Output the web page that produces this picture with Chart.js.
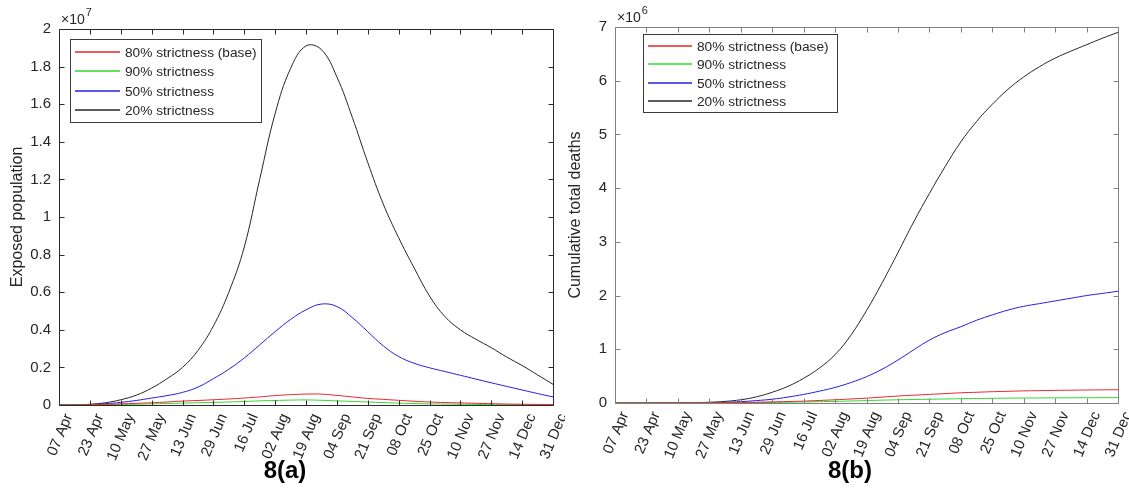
<!DOCTYPE html>
<html>
<head>
<meta charset="utf-8">
<script src="https://cdn.jsdelivr.net/npm/chart.js@4.4.1/dist/chart.umd.min.js"></script>
<style>
	html, body { margin: 0; padding: 0; background: #fff; }
	#wrap { position: relative; width: 1129px; height: 497px; overflow: hidden; }
	.panel { position: absolute; top: 0; }
</style>
</head>
<body>
<div id="wrap">
	<div class="panel" style="left:0"><canvas id="exposed" width="565" height="497"></canvas></div>
	<div class="panel" style="left:565px"><canvas id="deaths" width="564" height="497"></canvas></div>
</div>
<script>
// dates shown under the x axis, one per tick position 0..16
const tickLabels = ['07 Apr', '23 Apr', '10 May', '27 May', '13 Jun', '29 Jun', '16 Jul', '02 Aug', '19 Aug',
	'04 Sep', '21 Sep', '08 Oct', '25 Oct', '10 Nov', '27 Nov', '14 Dec', '31 Dec'];

// sample positions along the x axis (in tick units)
const xPos = [0, 0.5, 1, 1.5, 2, 2.5, 3, 3.5, 4, 4.5, 5, 5.5, 6, 6.5, 7, 7.5, 8, 8.5,
	9, 9.5, 10, 10.5, 11, 11.5, 12, 12.5, 13, 13.5, 14, 14.5, 15, 15.5, 16];

const seriesNames = ['80% strictness (base)', '90% strictness', '50% strictness', '20% strictness'];
const seriesColors = ['#e8262b', '#2fd82f', '#1f1fe6', '#262626'];

// exposed population, x 1e7
const exposed80 = [0, 0, 0.001, 0.003, 0.006, 0.009, 0.012, 0.016, 0.021, 0.024, 0.028, 0.032, 0.037, 0.043, 0.05, 0.055,
	0.058, 0.058, 0.051, 0.043, 0.035, 0.03, 0.025, 0.02, 0.016, 0.013, 0.011, 0.009, 0.007, 0.005, 0.004, 0.003, 0.002];
const exposed90 = [0, 0, 0.001, 0.002, 0.003, 0.004, 0.006, 0.008, 0.01, 0.012, 0.014, 0.016, 0.019, 0.022, 0.024, 0.026,
	0.027, 0.025, 0.022, 0.019, 0.016, 0.013, 0.01, 0.008, 0.006, 0.005, 0.004, 0.003, 0.002, 0.0015, 0.001, 0.0008, 0.0005];
const exposed50 = [0, 0.0005, 0.002, 0.007, 0.014, 0.024, 0.037, 0.05, 0.067, 0.095, 0.14, 0.19, 0.25, 0.32, 0.39, 0.455,
	0.506, 0.537, 0.524, 0.465, 0.39, 0.315, 0.258, 0.222, 0.198, 0.178, 0.158, 0.138, 0.118, 0.099, 0.08, 0.061, 0.043];
const exposed20 = [0, 0.001, 0.004, 0.012, 0.028, 0.052, 0.09, 0.14, 0.2, 0.29, 0.42, 0.6, 0.84, 1.2, 1.55, 1.79,
	1.91, 1.89, 1.745, 1.53, 1.29, 1.07, 0.89, 0.73, 0.58, 0.47, 0.4, 0.35, 0.305, 0.255, 0.21, 0.16, 0.11];

// cumulative deaths, x 1e6
const deaths80 = [0, 0, 0, 0.0005, 0.001, 0.002, 0.004, 0.007, 0.01, 0.015, 0.02, 0.027, 0.035, 0.047, 0.06, 0.075,
	0.09, 0.11, 0.13, 0.145, 0.16, 0.175, 0.19, 0.2, 0.21, 0.218, 0.225, 0.23, 0.235, 0.239, 0.242, 0.245, 0.248];
const deaths90 = [0, 0, 0, 0.0002, 0.0005, 0.001, 0.002, 0.003, 0.005, 0.007, 0.01, 0.015, 0.02, 0.025, 0.03, 0.037,
	0.045, 0.053, 0.06, 0.065, 0.07, 0.075, 0.08, 0.084, 0.087, 0.09, 0.092, 0.094, 0.095, 0.097, 0.098, 0.099, 0.1];
const deaths50 = [0, 0, 0.0005, 0.001, 0.002, 0.004, 0.008, 0.014, 0.025, 0.045, 0.07, 0.11, 0.16, 0.22, 0.29, 0.38,
	0.49, 0.63, 0.8, 0.99, 1.17, 1.31, 1.42, 1.54, 1.64, 1.73, 1.8, 1.85, 1.9, 1.95, 2.0, 2.04, 2.08];
const deaths20 = [0, 0, 0.0005, 0.001, 0.003, 0.007, 0.014, 0.03, 0.06, 0.115, 0.2, 0.31, 0.46, 0.65, 0.9, 1.26,
	1.72, 2.24, 2.8, 3.37, 3.9, 4.4, 4.86, 5.24, 5.56, 5.84, 6.07, 6.26, 6.42, 6.55, 6.67, 6.79, 6.9];

const FONT = "'Liberation Sans', Arial, Helvetica, sans-serif";
const TEXT = '#262626';

// box around the plot with inward ticks, the x10^n factor, the inset legend and the caption
const frame = {
	id: 'frame',
	afterDatasetsDraw(chart, args, opts) {
		const { ctx, chartArea: a, scales: { x, y } } = chart;
		const L = Math.round(a.left) + 0.5, R = Math.round(a.right) + 0.5;
		const T = Math.round(a.top) + 0.5, B = Math.round(a.bottom) + 0.5;
		ctx.save();
		ctx.strokeStyle = opts.axisColor;
		ctx.lineWidth = 1;
		ctx.beginPath();
		ctx.rect(L, T, R - L, B - T);
		x.ticks.forEach(t => {
			const px = Math.round(x.getPixelForValue(t.value)) + 0.5;
			ctx.moveTo(px, B); ctx.lineTo(px, B - 5);
			ctx.moveTo(px, T); ctx.lineTo(px, T + 5);
		});
		y.ticks.forEach(t => {
			const py = Math.round(y.getPixelForValue(t.value)) + 0.5;
			ctx.moveTo(L, py); ctx.lineTo(L + 5, py);
			ctx.moveTo(R, py); ctx.lineTo(R - 5, py);
		});
		ctx.stroke();

		// exponent label over the y axis
		ctx.fillStyle = TEXT;
		ctx.textBaseline = 'alphabetic';
		ctx.font = '14px ' + FONT;
		ctx.fillText('×10', a.left + 2, a.top - 5);
		const w = ctx.measureText('×10').width;
		ctx.font = '11px ' + FONT;
		ctx.fillText(opts.exponent, a.left + 2 + w + 1, a.top - 13);

		// legend
		const lg = opts.legend;
		ctx.fillStyle = '#fff';
		ctx.fillRect(lg.x, lg.y, lg.w, lg.h);
		ctx.strokeStyle = '#3c3c3c';
		ctx.strokeRect(lg.x + 0.5, lg.y + 0.5, lg.w, lg.h);
		ctx.font = '13.7px ' + FONT;
		ctx.textBaseline = 'middle';
		chart.data.datasets.forEach((ds, i) => {
			const ry = Math.round(lg.y + lg.first + i * lg.row);
			ctx.strokeStyle = ds.borderColor;
			ctx.lineWidth = 1.4;
			ctx.beginPath();
			ctx.moveTo(lg.x + 5, ry);
			ctx.lineTo(lg.x + 5 + lg.line, ry);
			ctx.stroke();
			ctx.fillStyle = TEXT;
			ctx.fillText(ds.label, lg.x + 10 + lg.line, ry + 1);
		});

		// panel caption under the axis labels
		ctx.fillStyle = '#000';
		ctx.textAlign = 'center';
		ctx.font = 'bold 24px ' + FONT;
		ctx.fillText(opts.caption, opts.captionX, 471);
		ctx.restore();
	}
};

function makeChart(id, series, opt) {
	const datasets = series.map((vals, i) => ({
		label: seriesNames[i],
		data: vals.map((v, k) => ({ x: xPos[k], y: v })),
		borderColor: seriesColors[i],
		borderWidth: 1,
		pointRadius: 0,
		tension: 0.4,
		fill: false
	}));
	return new Chart(document.getElementById(id), {
		type: 'line',
		data: { datasets },
		plugins: [frame],
		options: {
			responsive: false,
			animation: false,
			layout: { padding: { top: opt.top, right: opt.right, left: 0, bottom: 0 } },
			plugins: {
				legend: { display: false },
				tooltip: { enabled: false },
				frame: {
					axisColor: opt.axisColor,
					exponent: opt.exponent,
					legend: opt.legend,
					caption: opt.caption,
					captionX: opt.captionX
				}
			},
			scales: {
				x: {
					type: 'linear',
					min: 0,
					max: 16,
					grid: { display: false, drawTicks: false },
					border: { display: false },
					afterFit: (scale) => {
						scale.height = 497 - opt.bottom;
						scale.paddingLeft = 0;
						scale.paddingRight = 0;
					},
					ticks: {
						stepSize: 1,
						autoSkip: false,
						minRotation: 67,
						maxRotation: 67,
						padding: 6,
						labelOffset: 10,
						color: TEXT,
						font: { family: FONT, size: 15 },
						callback: (v) => tickLabels[v]
					}
				},
				y: {
					min: 0,
					max: opt.yMax,
					grid: { display: false, drawTicks: false },
					border: { display: false },
					afterFit: (scale) => {
						scale.width = opt.yWidth;
						scale.paddingTop = 0;
						scale.paddingBottom = 0;
					},
					title: {
						display: true,
						text: opt.yTitle,
						color: TEXT,
						font: { family: FONT, size: 16 },
						padding: { top: opt.titlePad, bottom: 0 }
					},
					ticks: {
						stepSize: opt.yStep,
						padding: 8,
						color: TEXT,
						font: { family: FONT, size: 15 },
						callback: (v) => String(+v.toFixed(1))
					}
				}
			}
		}
	});
}

makeChart('exposed', [exposed80, exposed90, exposed50, exposed20], {
	top: 29, bottom: 405, right: 12, yWidth: 59, yMax: 2, yStep: 0.2, titlePad: 8,
	yTitle: 'Exposed population', caption: '8(a)', captionX: 285, exponent: '7', axisColor: '#2b2b2b',
	legend: { x: 70, y: 39, w: 191, h: 83, line: 45, first: 13, row: 19.3 }
});

makeChart('deaths', [deaths80, deaths90, deaths50, deaths20], {
	top: 27, bottom: 403, right: 11, yWidth: 50, yMax: 7, yStep: 1, titlePad: 1,
	yTitle: 'Cumulative total deaths', caption: '8(b)', captionX: 850 - 565, exponent: '6', axisColor: '#808080',
	legend: { x: 78, y: 34, w: 194, h: 78, line: 44, first: 12, row: 18.3 }
});
</script>
</body>
</html>
